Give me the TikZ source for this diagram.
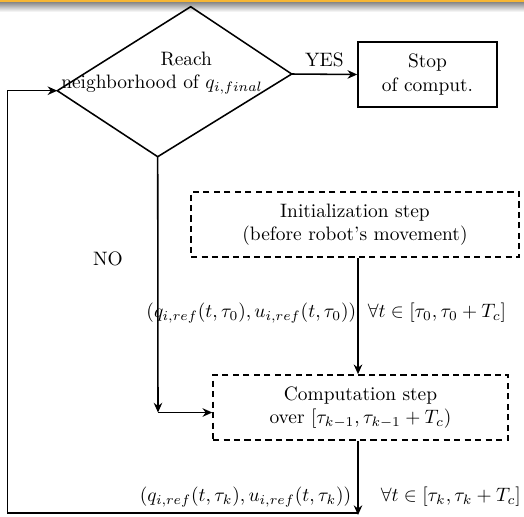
\documentclass[tikz,border=0pt]{standalone}
\usetikzlibrary{arrows.meta}

\definecolor{barorange}{RGB}{246,182,52}

\tikzset{
	stepbox/.style = {draw, dash pattern = on 3.2pt off 2.2pt, align = center, minimum height = 33.5pt, inner sep = 0pt},
	stopbox/.style = {draw, align = center, minimum width = 71.6pt, minimum height = 33.5pt, inner sep = 0pt},
	lbl/.style = {inner sep = 0pt},
}

\begin{document}
\begin{tikzpicture}[x = 0.515pt, y = 0.515pt, yscale = -1, line width = 0.8pt, >={Stealth[length = 5pt, width = 4.4pt]}]
	\useasboundingbox (0, 0) rectangle (524, 516);

	% Kopfleiste
	\fill [barorange] (0, 0) rectangle (524, 2.5);
	\shade [top color = black!45, bottom color = white] (0, 2.5) rectangle (524, 12);

	% Raute
	\coordinate (dn) at (190.7, 6.7);
	\coordinate (dw) at (57.3, 90.7);
	\coordinate (de) at (291.7, 74);
	\coordinate (ds) at (157.7, 156.7);
	\draw [line join = miter] (dn) -- (de) -- (ds) -- (dw) -- cycle;
	\node [align = center] (reach) at (162, 73) {\hspace*{25pt}Reach\\neighborhood of $q_{i,final}$};

	% Kaesten
	\node [stopbox] (stop) at (427.5, 74.5) {Stop\\of comput.};
	\node [stepbox, minimum width = 168.9pt] (init) at (355, 224.5) {Initialization step\\(before robot's movement)};
	\node [stepbox, minimum width = 151.9pt] (comp) at (360.5, 407.5) {Computation step\\over $[\tau_{k-1}, \tau_{k-1} + T_c)$};

	% Hilfspunkte
	\coordinate (col) at (358, 0);
	\coordinate (turn) at (158, 412.5);
	\coordinate (tip) at (358, 515);
	\coordinate (low) at (358, 513);
	\coordinate (lowleft) at (7.5, 513);

	% Pfeile
	\draw [->] (de) -- (stop.west) node [midway, above] (yes) {YES};
	\draw [->] (ds) -- (turn);
	\draw [->] (turn) -- (turn -| comp.west);
	\node (no) at (108, 259) {NO};
	\draw [->] (init.south -| col) -- (comp.north -| col);
	\draw [->] (comp.south -| col) -- (tip);
	\draw [->] (low) -- (lowleft) -- (lowleft |- dw) -- (dw);

	% Beschriftungen
	\node [lbl, anchor = east] (ref0) at (357, 313) {$(q_{i,ref}(t,\tau_0), u_{i,ref}(t,\tau_0))$};
	\node [lbl, anchor = west] (all0) at (367, 313) {$\forall t \in [\tau_0, \tau_0 + T_c]$};
	\node [lbl, anchor = east] (refk) at (352, 497) {$(q_{i,ref}(t,\tau_k), u_{i,ref}(t,\tau_k))$};
	\node [lbl, anchor = west] (allk) at (380, 497) {$\forall t \in [\tau_k, \tau_k + T_c]$};
\end{tikzpicture}
\end{document}
